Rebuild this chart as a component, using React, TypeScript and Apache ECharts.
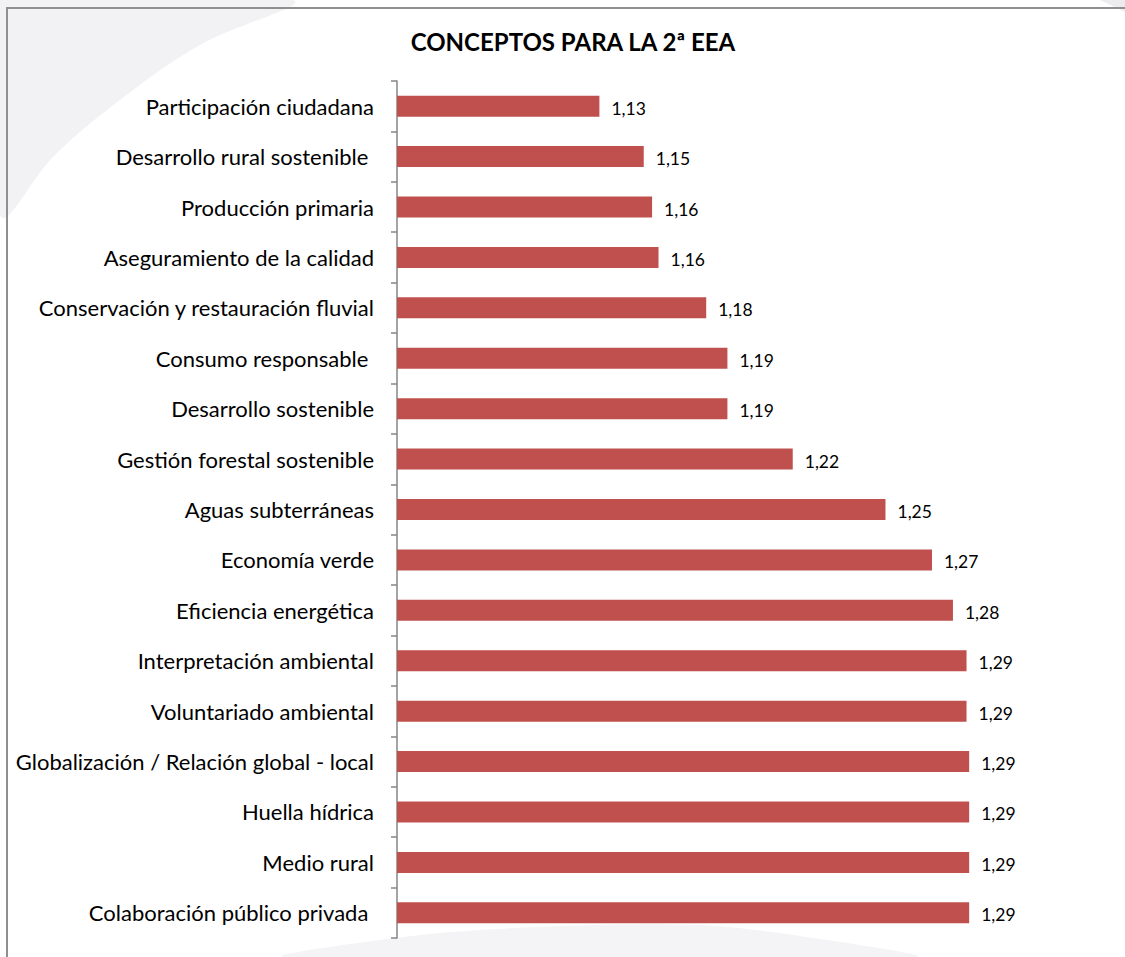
import React, { useEffect, useRef } from "react";
import * as echarts from "echarts";

const title = "CONCEPTOS PARA LA 2ª EEA";

const categories = [
  "Participación ciudadana",
  "Desarrollo rural sostenible ",
  "Producción primaria",
  "Aseguramiento de la calidad",
  "Conservación y restauración fluvial",
  "Consumo responsable ",
  "Desarrollo sostenible",
  "Gestión forestal sostenible",
  "Aguas subterráneas",
  "Economía verde",
  "Eficiencia energética",
  "Interpretación ambiental",
  "Voluntariado ambiental",
  "Globalización / Relación global - local",
  "Huella hídrica",
  "Medio rural",
  "Colaboración público privada ",
];

const values = [
  1.1349, 1.1535, 1.157, 1.1597, 1.1797, 1.1886, 1.1886, 1.216, 1.2549,
  1.2744, 1.2832, 1.2889, 1.2889, 1.29, 1.29, 1.29, 1.29,
];

const FONT = "Lato, 'Noto Sans', sans-serif";

export default function App() {
  const ref = useRef<HTMLDivElement>(null);

  useEffect(() => {
    if (!ref.current) return;
    const chart = echarts.init(ref.current, null, { renderer: "svg" });
    const bg = "#f2f2f4";
    chart.setOption({
      animation: false,
      backgroundColor: "#ffffff",
      title: {
        text: title,
        left: 568,
        top: 24,
        textAlign: "center",
        textStyle: {
          fontFamily: FONT,
          fontWeight: "bold",
          fontSize: 24,
          color: "#000",
        },
      },
      graphic: [
        {
          type: "polygon",
          z: -10,
          silent: true,
          shape: {
            points: [
              [0, 0],
              [292, 0],
              [200, 45],
              [120, 100],
              [55, 155],
              [0, 215],
            ],
            smooth: 0.4,
          },
          style: { fill: bg },
        },
        {
          type: "polygon",
          z: -10,
          silent: true,
          shape: {
            points: [
              [1100, 0],
              [1125, 0],
              [1125, 12],
            ],
          },
          style: { fill: "#ececee" },
        },
        {
          type: "polygon",
          z: -10,
          silent: true,
          shape: {
            points: [
              [285, 957],
              [420, 935],
              [560, 926],
              [700, 925],
              [800, 936],
              [915, 957],
            ],
            smooth: 0.3,
          },
          style: { fill: "#f4f4f6" },
        },
        {
          type: "rect",
          z: -5,
          silent: true,
          shape: { x: 7, y: 8, width: 1130, height: 1000 },
          style: { fill: "transparent", stroke: "#8f8f8f", lineWidth: 2 },
        },
      ],
      grid: {
        left: 397,
        right: 132,
        top: 81,
        bottom: 19,
      },
      xAxis: {
        type: "value",
        min: 1.05,
        max: 1.3,
        show: false,
        splitLine: { show: false },
      },
      yAxis: {
        type: "category",
        data: categories,
        inverse: true,
        axisLine: { show: true, lineStyle: { color: "#868686", width: 1.5 } },
        axisTick: {
          show: true,
          length: 6,
          lineStyle: { color: "#868686", width: 1.5 },
        },
        axisLabel: {
          margin: 23,
          fontSize: 22,
          color: "#000",
          fontFamily: FONT,
        },
        splitLine: { show: false },
      },
      series: [
        {
          type: "bar",
          data: values,
          barWidth: 21,
          itemStyle: { color: "#C0504D" },
          label: {
            show: true,
            position: "right",
            distance: 12,
            offset: [0, 2],
            fontSize: 17.5,
            fontFamily: FONT,
            color: "#000",
            formatter: (p: any) =>
              Number(p.value).toFixed(2).replace(".", ","),
          },
        },
      ],
    });
    return () => chart.dispose();
  }, []);

  return (
    <div
      ref={ref}
      style={{
        position: "absolute",
        left: 0,
        top: 0,
        width: 1125,
        height: 957,
      }}
    />
  );
}
